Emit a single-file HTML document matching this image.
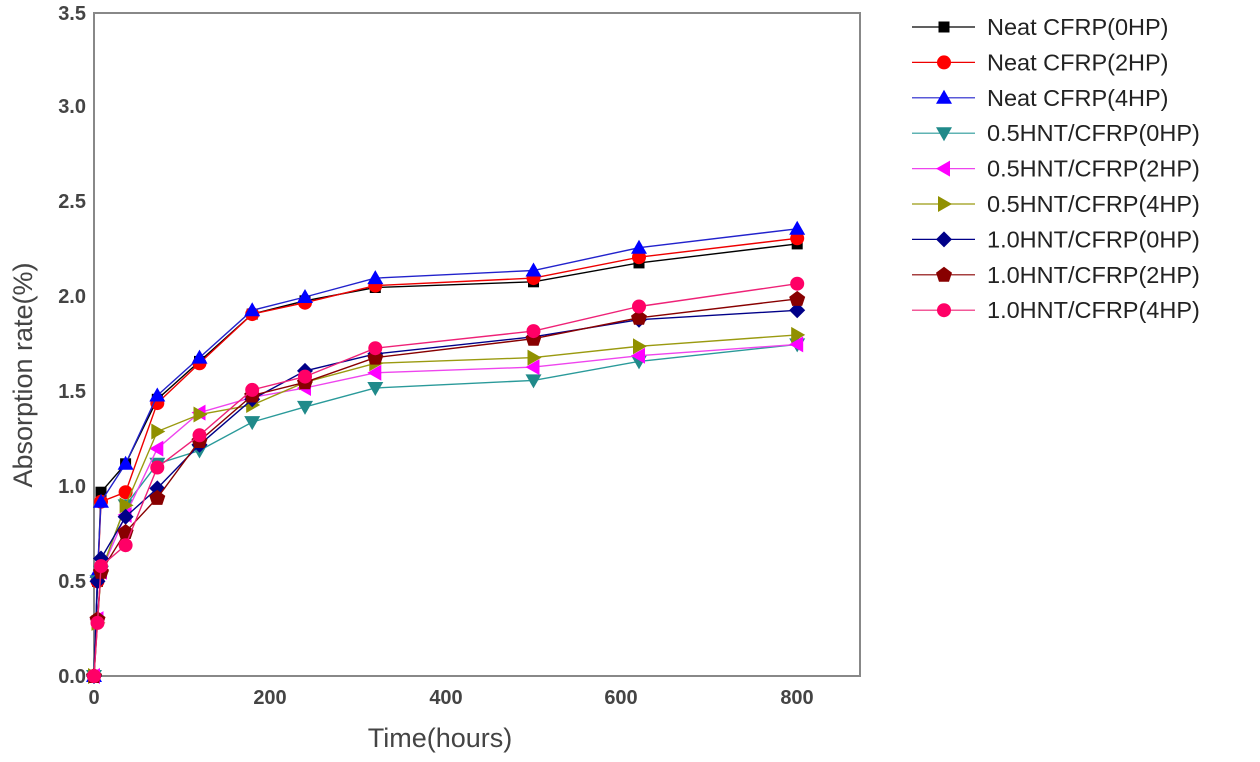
<!DOCTYPE html><html><head><meta charset="utf-8"><style>body{margin:0;background:#fff}svg{display:block}</style></head><body>
<svg id="s" width="1260" height="762" xmlns="http://www.w3.org/2000/svg" font-family="Liberation Sans, sans-serif">
<rect width="1260" height="762" fill="#fff"/>
<g fill="#444" font-size="20" font-weight="bold" text-anchor="end">
<text x="86" y="683">0.0</text><text x="86" y="588">0.5</text><text x="86" y="493">1.0</text><text x="86" y="398">1.5</text><text x="86" y="303">2.0</text><text x="86" y="208">2.5</text><text x="86" y="113">3.0</text><text x="86" y="20">3.5</text>
</g>
<g fill="#444" font-size="20" font-weight="bold" text-anchor="middle">
<text x="94" y="704">0</text><text x="270" y="704">200</text><text x="446" y="704">400</text><text x="621" y="704">600</text><text x="797" y="704">800</text>
</g>
<text x="440" y="747" font-size="27" fill="#444" text-anchor="middle">Time(hours)</text>
<text transform="translate(32,375) rotate(-90)" font-size="27" fill="#444" text-anchor="middle">Absorption rate(%)</text>
<rect x="94" y="13" width="766" height="663" fill="none" stroke="#888" stroke-width="2"/>
<g id="d"></g>
</svg>
<script>
var hrs=[0,4,8,36,72,120,180,240,320,500,620,800];
var S=[
["Neat CFRP(0HP)","#000","#000","sq",[0,0.5,0.97,1.12,1.46,1.66,1.91,1.98,2.05,2.08,2.18,2.28]],
["Neat CFRP(2HP)","#e00","#f00","ci",[0,0.5,0.92,0.97,1.44,1.65,1.91,1.97,2.06,2.10,2.21,2.31]],
["Neat CFRP(4HP)","#22c","#00f","tu",[0,0.55,0.92,1.12,1.48,1.68,1.93,2.0,2.10,2.14,2.26,2.36]],
["0.5HNT/CFRP(0HP)","#2a9a9a","#208a8a","td",[0,0.5,0.55,0.9,1.12,1.19,1.34,1.42,1.52,1.56,1.66,1.75]],
["0.5HNT/CFRP(2HP)","#e4e","#f0f","tl",[0,0.3,0.55,0.85,1.2,1.39,1.47,1.52,1.60,1.63,1.69,1.75]],
["0.5HNT/CFRP(4HP)","#9a9a10","#909000","tr",[0,0.28,0.55,0.9,1.29,1.38,1.43,1.55,1.65,1.68,1.74,1.80]],
["1.0HNT/CFRP(0HP)","#008","#008","di",[0,0.5,0.62,0.84,0.99,1.22,1.46,1.61,1.70,1.79,1.88,1.93]],
["1.0HNT/CFRP(2HP)","#800","#800","pe",[0,0.3,0.55,0.76,0.94,1.24,1.48,1.55,1.68,1.78,1.89,1.99]],
["1.0HNT/CFRP(4HP)","#e27","#f06","ci",[0,0.28,0.58,0.69,1.10,1.27,1.51,1.58,1.73,1.82,1.95,2.07]]];
function X(h){return 94+h*0.879}function Y(v){return 676-v*189.5}
function mk(t,x,y,c){var r=7;
if(t=="sq")return '<rect x="'+(x-5.5)+'" y="'+(y-5.5)+'" width="11" height="11" fill="'+c+'"/>';
if(t=="ci")return '<circle cx="'+x+'" cy="'+y+'" r="'+r+'" fill="'+c+'"/>';
var p;
if(t=="tu")p=[[x,y-8],[x+8,y+6],[x-8,y+6]];
if(t=="td")p=[[x,y+8],[x+8,y-6],[x-8,y-6]];
if(t=="tl")p=[[x-8,y],[x+6,y-8],[x+6,y+8]];
if(t=="tr")p=[[x+8,y],[x-6,y-8],[x-6,y+8]];
if(t=="di")p=[[x,y-8],[x+8,y],[x,y+8],[x-8,y]];
if(t=="pe")p=[[x,y-8],[x+8,y-2],[x+5,y+7],[x-5,y+7],[x-8,y-2]];
return '<polygon points="'+p.map(function(q){return q.join(",")}).join(" ")+'" fill="'+c+'"/>';}
var h="";
S.forEach(function(s,i){
var pts=s[4].map(function(v,j){return [X(hrs[j]).toFixed(1),Y(v).toFixed(1)]});
h+='<polyline points="'+pts.map(function(q){return q.join(",")}).join(" ")+'" fill="none" stroke="'+s[1]+'" stroke-width="1.4"/>';
pts.forEach(function(q){h+=mk(s[3],+q[0],+q[1],s[2])});
var ly=27+i*35.4;
h+='<line x1="912" y1="'+ly+'" x2="975" y2="'+ly+'" stroke="'+s[1]+'" stroke-width="1.2"/>'+mk(s[3],944,ly,s[2]);
h+='<text x="987" y="'+(ly+8)+'" font-size="23.5" fill="#222">'+s[0]+'</text>';
});
document.getElementById("d").innerHTML=h;
</script>
</body></html>
